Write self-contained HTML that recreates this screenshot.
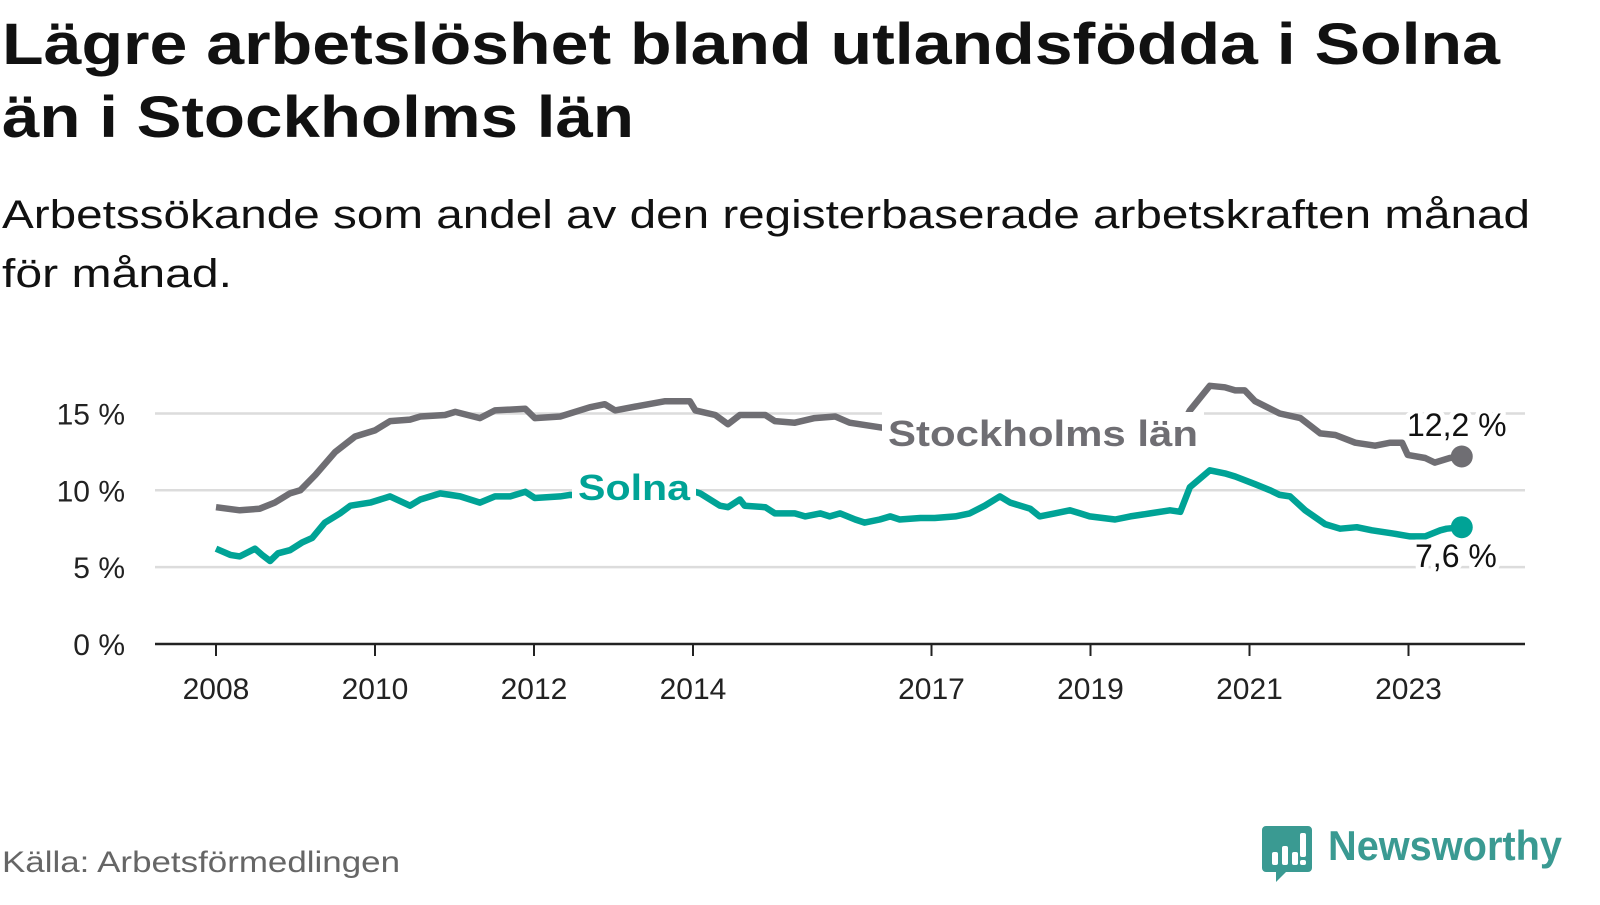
<!DOCTYPE html>
<html><head><meta charset="utf-8"><style>
body{margin:0;background:#fff;width:1600px;height:900px;overflow:hidden;font-family:"Liberation Sans",sans-serif}
</style></head><body>
<svg width="1600" height="900" viewBox="0 0 1600 900" xmlns="http://www.w3.org/2000/svg">
<text x="2" y="64" font-size="58" font-weight="bold" fill="#111" textLength="1498" lengthAdjust="spacingAndGlyphs">Lägre arbetslöshet bland utlandsfödda i Solna</text>
<text x="2" y="137" font-size="58" font-weight="bold" fill="#111" textLength="632" lengthAdjust="spacingAndGlyphs">än i Stockholms län</text>
<text x="2" y="228" font-size="40" fill="#111" textLength="1528" lengthAdjust="spacingAndGlyphs">Arbetssökande som andel av den registerbaserade arbetskraften månad</text>
<text x="2" y="287" font-size="40" fill="#111" textLength="230" lengthAdjust="spacingAndGlyphs">för månad.</text>
<g id="grid"></g>
<g id="axes"></g>
<g id="lines"></g>
<g id="labels"></g>
<text x="2" y="872" font-size="30" fill="#666" textLength="398" lengthAdjust="spacingAndGlyphs">Källa: Arbetsförmedlingen</text>
<g>
<path d="M1266 826 h42 a4 4 0 0 1 4 4 v38 a4 4 0 0 1 -4 4 h-22 l-10 10 v-10 h-10 a4 4 0 0 1 -4 -4 v-38 a4 4 0 0 1 4 -4z" fill="#3a9a92"/>
<rect x="1272" y="852" width="6" height="13" rx="2" fill="#fff"/>
<rect x="1282" y="846" width="6" height="19" rx="2" fill="#fff"/>
<rect x="1292" y="852" width="6" height="13" rx="2" fill="#fff"/>
<rect x="1300" y="833" width="6" height="24" rx="2" fill="#fff"/>
<rect x="1300" y="860" width="6" height="5" rx="2" fill="#fff"/>
<text x="1328" y="860" font-size="42" font-weight="bold" fill="#3a9a92" textLength="234" lengthAdjust="spacingAndGlyphs">Newsworthy</text>
</g>
</svg>
<script>
const yTicks=[0,5,10,15];
const yTickLabels=["0 %","5 %","10 %","15 %"];
const xTicks=[2008,2010,2012,2014,2017,2019,2021,2023];
const xTickLabels=["2008","2010","2012","2014","2017","2019","2021","2023"];
const sthlmDates=[2008.00,2008.30,2008.55,2008.74,2008.93,2009.06,2009.25,2009.50,2009.75,2010.00,2010.19,2010.44,2010.57,2010.88,2011.01,2011.32,2011.51,2011.89,2012.01,2012.33,2012.70,2012.89,2013.02,2013.33,2013.65,2013.96,2014.03,2014.28,2014.44,2014.59,2014.91,2015.03,2015.28,2015.53,2015.79,2015.97,2016.35,2016.60,2017.23,2017.86,2018.49,2019.12,2019.75,2020.13,2020.25,2020.50,2020.69,2020.82,2020.94,2021.07,2021.38,2021.64,2021.89,2022.08,2022.33,2022.58,2022.77,2022.92,2022.99,2023.21,2023.33,2023.52,2023.67];
const sthlmValues=[8.9,8.7,8.8,9.2,9.8,10.0,11.0,12.5,13.5,13.9,14.5,14.6,14.8,14.9,15.1,14.7,15.2,15.3,14.7,14.8,15.4,15.6,15.2,15.5,15.8,15.8,15.2,14.9,14.3,14.9,14.9,14.5,14.4,14.7,14.8,14.4,14.1,13.9,13.6,13.4,13.5,13.3,13.6,14.0,15.2,16.8,16.7,16.5,16.5,15.8,15.0,14.7,13.7,13.6,13.1,12.9,13.1,13.1,12.3,12.1,11.8,12.1,12.2];
const solnaDates=[2008.00,2008.18,2008.30,2008.49,2008.58,2008.68,2008.78,2008.93,2009.08,2009.21,2009.37,2009.56,2009.69,2009.94,2010.19,2010.44,2010.57,2010.82,2011.07,2011.32,2011.51,2011.70,2011.89,2012.01,2012.33,2012.45,2012.83,2013.46,2013.96,2014.09,2014.34,2014.44,2014.59,2014.65,2014.91,2015.03,2015.28,2015.41,2015.60,2015.72,2015.85,2016.04,2016.16,2016.35,2016.48,2016.60,2016.86,2017.04,2017.30,2017.48,2017.67,2017.86,2017.99,2018.24,2018.36,2018.55,2018.74,2018.87,2018.99,2019.31,2019.50,2019.75,2020.00,2020.13,2020.25,2020.50,2020.69,2020.82,2021.07,2021.26,2021.38,2021.51,2021.70,2021.95,2022.14,2022.35,2022.54,2022.79,2023.02,2023.21,2023.40,2023.48,2023.67];
const solnaValues=[6.2,5.8,5.7,6.2,5.8,5.4,5.9,6.1,6.6,6.9,7.9,8.5,9.0,9.2,9.6,9.0,9.4,9.8,9.6,9.2,9.6,9.6,9.9,9.5,9.6,9.7,9.6,9.9,10.0,9.8,9.0,8.9,9.4,9.0,8.9,8.5,8.5,8.3,8.5,8.3,8.5,8.1,7.9,8.1,8.3,8.1,8.2,8.2,8.3,8.5,9.0,9.6,9.2,8.8,8.3,8.5,8.7,8.5,8.3,8.1,8.3,8.5,8.7,8.6,10.2,11.3,11.1,10.9,10.4,10.0,9.7,9.6,8.7,7.8,7.5,7.6,7.4,7.2,7.0,7.0,7.4,7.5,7.6];
const NS="http://www.w3.org/2000/svg";
const X0=155,X1=1525;
function xs(y){return 216+(y-2008)*79.5;}
function ys(v){return 644-v*15.37;}
function mk(tag,attrs,parent){const e=document.createElementNS(NS,tag);for(const k in attrs)e.setAttribute(k,attrs[k]);parent.appendChild(e);return e;}
const grid=document.getElementById('grid'),axes=document.getElementById('axes'),lines=document.getElementById('lines'),labels=document.getElementById('labels');
yTicks.forEach((t,i)=>{
  if(t>0){const g=mk('line',{x1:X0,x2:X1,y1:ys(t),y2:ys(t),stroke:'#dcdcdc','stroke-width':2.5},grid);
  
  }
  const l=mk('text',{x:125,y:ys(t)+11,'font-size':30,'text-anchor':'end',fill:'#222'},axes);
  l.textContent=yTickLabels[i];
  
  
});
const base=mk('line',{x1:X0,x2:X1,y1:644,y2:644,stroke:'#222','stroke-width':2.5},axes);


xTicks.forEach((t,i)=>{
  const tk=mk('line',{x1:xs(t),x2:xs(t),y1:644,y2:656,stroke:'#222','stroke-width':2},axes);
  
  
  const l=mk('text',{x:xs(t),y:699,'font-size':30,'text-anchor':'middle',fill:'#222'},axes);
  l.textContent=xTickLabels[i];
  
  
});
function series(d,v,color,name){
  const p=d.map((t,i)=>(i?'L':'M')+xs(t).toFixed(1)+' '+ys(v[i]).toFixed(1)).join(' ');
  const path=mk('path',{d:p,fill:'none',stroke:color,'stroke-width':6.5,'stroke-linejoin':'round'},lines);
  
  
  const n=d.length-1;
  const c=mk('circle',{cx:xs(d[n]),cy:ys(v[n]),r:11,fill:color},lines);
  
  
  return [xs(d[n]),ys(v[n]),v[n]];
}
const e1=series(sthlmDates,sthlmValues,'#6f6e73','stockholm');
const e2=series(solnaDates,solnaValues,'#00a396','solna');
function lab(x,y,txt,size,color,bold,name,sw,len){
  if(len){
    const bg=mk('rect',{x:x-6,y:y-34,width:len+12,height:42,fill:'#fff'},labels);
    
    
  }
  const t=mk('text',{x:x,y:y,'font-size':size,fill:color,'font-weight':bold?'bold':'normal',stroke:'#fff','stroke-width':sw,'paint-order':'stroke','stroke-linejoin':'round'},labels);
  if(len){t.setAttribute('textLength',len);t.setAttribute('lengthAdjust','spacingAndGlyphs');}
  t.textContent=txt;
  
  
}
lab(888,446,'Stockholms län',36,'#6f6e73',true,'stockholm-series-label',8,310);
lab(578,500,'Solna',36,'#00a396',true,'solna-series-label',8,112);
lab(1407,436,e1[2].toFixed(1).replace('.',',')+' %',32,'#111',false,'stockholm-end-value',10);
lab(1415,567,e2[2].toFixed(1).replace('.',',')+' %',32,'#111',false,'solna-end-value',10);
</script>
</body></html>
